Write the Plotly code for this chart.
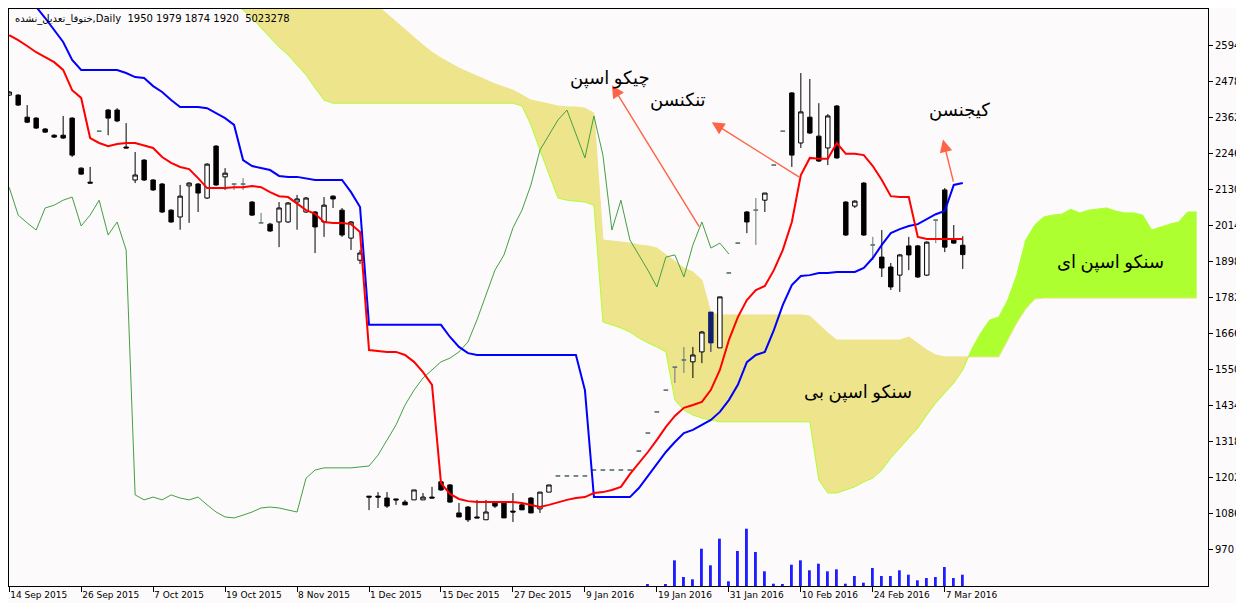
import numpy as np
import plotly.graph_objects as go

# bar index -> trading day; date labels sit on every 8th bar
date_ticks = [0, 8, 16, 24, 32, 40, 48, 56, 64, 72, 80, 88, 96, 104]
date_labels = ['14 Sep 2015', '26 Sep 2015', '7 Oct 2015', '19 Oct 2015', '8 Nov 2015',
               '1 Dec 2015', '15 Dec 2015', '27 Dec 2015', '9 Jan 2016', '19 Jan 2016',
               '31 Jan 2016', '10 Feb 2016', '24 Feb 2016', '7 Mar 2016']
price_ticks = [970, 1086, 1202, 1318, 1434, 1550, 1666, 1782, 1898, 2014,
               2130, 2246, 2362, 2478, 2594]

op = [2433, 2433, 2362, 2359, 2324, 2304, 2304, 2359, 2198, 2153,
      2317, 2385, 2385, 2266, 2160, 2224, 2160, 2147, 2063, 2041,
      2141, 2147, 2102, 2269, 2170, 2147, 2147, 2089, 2022, 2018,
      2025, 2025, 2089, 2057, 2057, 2025, 2108, 2063, 1973, 1902,
      1143, 1143, 1137, 1134, 1124, 1131, 1131, 1140, 1189, 1179,
      1089, 1108, 1076, 1067, 1121, 1124, 1095, 1115, 1137, 1102,
      1156, 1208, 1208, 1208, 1208, 1227, 1227, 1227, 1227, 1227,
      1288, 1346, 1414, 1484, 1558, 1581, 1575, 1607, 1735, 1620,
      1861, 1957, 2057, 2063, 2095, 2208, 2317, 2440, 2279, 2362,
      2301, 2263, 2398, 2089, 2076, 2150, 1951, 1912, 1880, 1854,
      1948, 1948, 1854, 2031, 2128, 1967, 1950]
hi = [2446, 2436, 2401, 2362, 2327, 2307, 2366, 2362, 2201, 2202,
      2317, 2388, 2391, 2343, 2250, 2227, 2163, 2150, 2066, 2144,
      2153, 2150, 2214, 2272, 2198, 2147, 2166, 2092, 2054, 2022,
      2089, 2089, 2112, 2105, 2060, 2105, 2111, 2070, 2028, 1935,
      1143, 1156, 1156, 1134, 1131, 1163, 1153, 1173, 1192, 1182,
      1121, 1111, 1131, 1131, 1121, 1127, 1153, 1118, 1140, 1156,
      1179, 1208, 1208, 1208, 1208, 1227, 1227, 1227, 1227, 1227,
      1288, 1346, 1414, 1484, 1558, 1623, 1623, 1674, 1735, 1784,
      1861, 1957, 2060, 2102, 2118, 2208, 2317, 2443, 2504, 2485,
      2407, 2372, 2401, 2092, 2095, 2153, 1977, 1999, 1893, 1922,
      1977, 1951, 1963, 2031, 2134, 2015, 1979]
lo = [2430, 2398, 2343, 2324, 2311, 2295, 2292, 2234, 2176, 2150,
      2317, 2304, 2346, 2263, 2150, 2157, 2125, 2054, 2022, 2000,
      2022, 2057, 2099, 2141, 2128, 2128, 2128, 2044, 2022, 1993,
      1944, 2022, 2000, 2054, 1925, 1977, 2070, 1977, 1935, 1890,
      1098, 1105, 1105, 1115, 1115, 1131, 1131, 1137, 1160, 1121,
      1076, 1060, 1073, 1067, 1105, 1073, 1060, 1099, 1089, 1089,
      1156, 1208, 1208, 1208, 1208, 1227, 1227, 1227, 1227, 1227,
      1288, 1346, 1414, 1484, 1507, 1539, 1523, 1571, 1607, 1620,
      1861, 1957, 1989, 1951, 2057, 2208, 2317, 2202, 2263, 2308,
      2218, 2208, 2228, 1980, 2070, 1980, 1903, 1848, 1806, 1800,
      1870, 1845, 1851, 1957, 1928, 1954, 1874]
cl = [2443, 2401, 2346, 2327, 2314, 2298, 2295, 2240, 2179, 2150,
      2317, 2359, 2350, 2263, 2176, 2160, 2128, 2057, 2025, 2108,
      2150, 2118, 2211, 2144, 2182, 2147, 2147, 2047, 2022, 1996,
      2070, 2086, 2099, 2102, 2009, 2079, 2099, 1983, 2025, 1925,
      1140, 1140, 1111, 1131, 1115, 1163, 1140, 1137, 1163, 1124,
      1076, 1067, 1073, 1092, 1111, 1073, 1092, 1099, 1089, 1156,
      1179, 1208, 1208, 1208, 1208, 1227, 1227, 1227, 1227, 1227,
      1288, 1346, 1414, 1484, 1558, 1581, 1597, 1671, 1636, 1784,
      1861, 1957, 2025, 2063, 2118, 2208, 2317, 2240, 2379, 2311,
      2221, 2366, 2231, 1983, 2092, 1983, 1951, 1877, 1816, 1919,
      1919, 1848, 1960, 2031, 1944, 1957, 1920]
gray_bars = [10, 25, 26, 28, 61, 62, 63, 64, 65, 66, 67, 68, 69, 70, 71, 72, 73,
             74, 75, 80, 81, 83, 85, 86, 96, 103]
navy_bars = [78]

volume = [0] * 71 + [580000, 0, 580000, 11420000, 4000000, 2980000, 16580000,
          9200000, 21030000, 2090000, 15560000, 25470000, 15110000, 6530000,
          1020000, 580000, 9470000, 11420000, 6980000, 9910000, 6530000,
          7420000, 1020000, 4450000, 1470000, 8000000, 4450000, 4450000,
          6980000, 5020000, 2530000, 3560000, 4000000, 8450000, 3560000, 5023278]

tenkan = [2626, 2610, 2591, 2571, 2555, 2539, 2514, 2449, 2424, 2295,
          2279, 2269, 2276, 2279, 2279, 2272, 2263, 2234, 2215, 2202,
          2195, 2166, 2134, 2134, 2134, 2137, 2137, 2141, 2137, 2121,
          2108, 2105, 2083, 2063, 2051, 2025, 2022, 2022, 2018, 1993,
          1613, 1610, 1607, 1607, 1597, 1575, 1542, 1501, 1185, 1150,
          1134, 1127, 1124, 1124, 1124, 1124, 1124, 1121, 1115, 1108,
          1115, 1124, 1131, 1137, 1140, 1153, 1156, 1163, 1173, 1214,
          1249, 1285, 1324, 1366, 1401, 1427, 1436, 1446, 1485, 1549,
          1645, 1719, 1774, 1806, 1819, 1870, 1935, 2025, 2176, 2231,
          2228, 2228, 2279, 2244, 2244, 2240, 2205, 2160, 2108, 2105,
          2105, 1977, 1970, 1970, 1970, 1970, 1970]
kijun = [2790, 2765, 2740, 2717, 2681, 2642, 2604, 2546, 2514, 2514,
         2514, 2514, 2514, 2504, 2491, 2488, 2462, 2443, 2417, 2395,
         2395, 2395, 2391, 2375, 2359, 2337, 2224, 2205, 2198, 2192,
         2173, 2170, 2170, 2166, 2160, 2160, 2160, 2160, 2121, 2073,
         1694, 1694, 1694, 1694, 1694, 1694, 1694, 1694, 1694, 1655,
         1623, 1603, 1597, 1597, 1597, 1597, 1597, 1597, 1597, 1597,
         1597, 1597, 1597, 1597, 1484, 1140, 1140, 1140, 1140, 1140,
         1169, 1208, 1243, 1285, 1317, 1346, 1356, 1372, 1388, 1414,
         1452, 1501, 1574, 1597, 1607, 1677, 1758, 1822, 1851, 1854,
         1861, 1861, 1864, 1864, 1864, 1877, 1909, 1951, 1989, 2002,
         2012, 2018, 2034, 2050, 2060, 2144, 2150]
chikou = [2137, 2047, 2022, 1999, 2070, 2079, 2095, 2105, 2012, 2047,
          2095, 1983, 2025, 1935, 1147, 1131, 1140, 1131, 1147, 1137,
          1131, 1140, 1115, 1092, 1076, 1073, 1082, 1092, 1105, 1108,
          1105, 1099, 1092, 1201, 1227, 1234, 1234, 1234, 1234, 1237,
          1240, 1275, 1324, 1372, 1436, 1484, 1523, 1549, 1575, 1587,
          1607, 1639, 1710, 1790, 1870, 1919, 2006, 2063, 2144, 2256,
          2305, 2353, 2385, 2305, 2231, 2366, 2240, 1999, 2095, 1967,
          1919, 1870, 1816, 1912, 1919, 1848, 1951, 2025, 1941, 1957,
          1922]
span_a = [2930, 2920, 2910, 2900, 2890, 2880, 2870, 2860, 2850, 2840,
          2830, 2820, 2810, 2800, 2790, 2780, 2770, 2760, 2750, 2745,
          2740, 2738, 2736, 2734, 2732, 2730, 2707, 2681, 2649, 2617,
          2588, 2562, 2530, 2498, 2456, 2417, 2407, 2407, 2407, 2407,
          2407, 2407, 2407, 2407, 2407, 2407, 2407, 2407, 2407, 2407,
          2407, 2407, 2407, 2407, 2407, 2407, 2407, 2398, 2337, 2256,
          2176, 2102, 2095, 2092, 2089, 2079, 1703, 1694, 1684, 1671,
          1652, 1636, 1623, 1607, 1452, 1420, 1404, 1394, 1388, 1382,
          1382, 1382, 1382, 1382, 1382, 1382, 1382, 1382, 1382, 1382,
          1195, 1153, 1153, 1163, 1173, 1189, 1201, 1227, 1266, 1298,
          1330, 1362, 1404, 1443, 1475, 1507, 1549, 1616, 1668, 1710,
          1719, 1774, 1854, 1967, 2015, 2041, 2047, 2050, 2066, 2054,
          2063, 2066, 2070, 2060, 2054, 2054, 2047, 1999, 2009, 2018,
          2025, 2057, 2057]
span_b = [3000, 2995, 2990, 2985, 2980, 2975, 2970, 2965, 2960, 2955,
          2950, 2945, 2940, 2935, 2930, 2925, 2920, 2915, 2910, 2905,
          2900, 2895, 2890, 2885, 2880, 2870, 2860, 2850, 2840, 2830,
          2820, 2810, 2800, 2790, 2780, 2770, 2760, 2752, 2745, 2738,
          2730, 2719, 2694, 2668, 2642, 2620, 2594, 2571, 2552, 2536,
          2520, 2507, 2494, 2481, 2469, 2459, 2449, 2433, 2417, 2411,
          2404, 2398, 2395, 2395, 2391, 2375, 1967, 1964, 1960, 1957,
          1951, 1948, 1941, 1919, 1896, 1877, 1864, 1838, 1732, 1726,
          1726, 1726, 1726, 1726, 1726, 1726, 1726, 1726, 1726, 1722,
          1694, 1668, 1645, 1645, 1645, 1645, 1645, 1645, 1645, 1645,
          1655, 1633, 1613, 1597, 1591, 1591, 1591, 1591, 1591, 1591,
          1591, 1645, 1700, 1745, 1777, 1780, 1780, 1780, 1780, 1780,
          1780, 1780, 1780, 1780, 1780, 1780, 1780, 1780, 1780, 1780,
          1780, 1780, 1780]

KHAKI = '#EEE48C'
LIME = '#ADFF2F'
BG = '#FCFAFA'
Y_RANGE = [854, 2710]
VOL_PER_PX = 444538


def kumo_pieces(a, b):
    # split the cloud where span A and span B cross
    a = np.asarray(a, float)
    b = np.asarray(b, float)
    x = np.arange(len(a), dtype=float)
    pieces = []
    xs, ya, yb = [x[0]], [a[0]], [b[0]]
    for i in range(len(a) - 1):
        d0, d1 = a[i] - b[i], a[i + 1] - b[i + 1]
        if d0 * d1 < 0:
            t = d0 / (d0 - d1)
            xc = x[i] + t
            yc = a[i] + (a[i + 1] - a[i]) * t
            xs.append(xc); ya.append(yc); yb.append(yc)
            pieces.append((xs, ya, yb, d0 > 0))
            xs, ya, yb = [xc], [yc], [yc]
        xs.append(x[i + 1]); ya.append(a[i + 1]); yb.append(b[i + 1])
    pieces.append((xs, ya, yb, (a[-1] - b[-1]) > 0))
    return pieces


fig = go.Figure()

for xs, ya, yb, up in kumo_pieces(span_a, span_b):
    fig.add_trace(go.Scatter(
        x=list(xs) + list(xs)[::-1], y=list(yb) + list(ya)[::-1],
        fill='toself', fillcolor=LIME if up else KHAKI,
        line=dict(width=0), mode='lines', hoverinfo='skip'))

cloud_x = list(range(len(span_a)))
fig.add_trace(go.Scatter(x=cloud_x, y=span_b, mode='lines',
                         line=dict(color=KHAKI, width=1)))
fig.add_trace(go.Scatter(x=cloud_x, y=span_a, mode='lines',
                         line=dict(color=LIME, width=1)))

bars = list(range(len(op)))
fig.add_trace(go.Bar(x=bars, y=volume, width=0.22, marker=dict(color='#1E1EFF', line=dict(width=0)),
                     yaxis='y2'))


def candle_group(idx, up_fill, dn_fill, line_col):
    return go.Candlestick(
        x=[bars[i] for i in idx], open=[op[i] for i in idx], high=[hi[i] for i in idx],
        low=[lo[i] for i in idx], close=[cl[i] for i in idx],
        increasing=dict(fillcolor=up_fill, line=dict(color=line_col, width=1)),
        decreasing=dict(fillcolor=dn_fill, line=dict(color=line_col, width=1)),
        whiskerwidth=0, yaxis='y3', hoverinfo='skip')


plain = [i for i in bars if i not in gray_bars and i not in navy_bars]
fig.add_trace(candle_group(plain, 'white', 'black', 'black'))
fig.add_trace(candle_group(gray_bars, '#5F7878', '#5F7878', '#5F7878'))
fig.add_trace(candle_group(navy_bars, '#14206E', '#14206E', '#14206E'))

fig.add_trace(go.Scatter(x=list(range(len(chikou))), y=chikou, mode='lines',
                         line=dict(color='#44A044', width=1), yaxis='y4'))
fig.add_trace(go.Scatter(x=bars, y=kijun, mode='lines',
                         line=dict(color='#0000FF', width=2), yaxis='y4'))
fig.add_trace(go.Scatter(x=bars, y=tenkan, mode='lines',
                         line=dict(color='#FF0000', width=2), yaxis='y4'))

arrow_col = '#FF6347'
arrows = [(67.0, 2465, 76.8, 2005), (78.1, 2346, 88.0, 2166), (103.8, 2290, 105.0, 2150)]
for hx, hy, tx, ty in arrows:
    fig.add_annotation(x=hx, y=hy, ax=tx, ay=ty, xref='x', yref='y', axref='x', ayref='y',
                       text='', showarrow=True, arrowhead=2, arrowsize=1.8, arrowwidth=1.4,
                       arrowcolor=arrow_col)

fa_font = dict(family='Times New Roman, DejaVu Serif, DejaVu Sans', size=18, color='black')
labels = [(66.8, 2488, 'چیکو اسپن'), (74.4, 2417, 'تنکنسن'), (105.6, 2385, 'کیجنسن'),
          (122.4, 1896, 'سنکو اسپن ای'), (94.3, 1475, 'سنکو اسپن بی')]
for lx, ly, txt in labels:
    fig.add_annotation(x=lx, y=ly, text=txt, showarrow=False, font=fa_font)

fig.add_annotation(xref='paper', yref='paper', x=0.003, y=0.983, xanchor='left', yanchor='middle',
                   text='ختوقا_تعدیل_نشده,Daily  1950 1979 1874 1920  5023278', showarrow=False,
                   font=dict(family='Tahoma, DejaVu Sans', size=10, color='black'))

# the page body keeps its default 8px margin, so the figure is 8px smaller
fig.update_layout(
    width=1236, height=595, margin=dict(l=1, r=36, t=1, b=17),
    paper_bgcolor=BG, plot_bgcolor=BG, showlegend=False,
    xaxis=dict(range=[-0.02, 133.26], tickvals=date_ticks, ticktext=date_labels,
               ticks='outside', ticklen=5, tickcolor='black', showline=True, mirror=True,
               linecolor='black', showgrid=False, zeroline=False,
               tickfont=dict(family='Tahoma, DejaVu Sans', size=9, color='black'),
               tickangle=0, ticklabelposition='outside right', rangeslider=dict(visible=False),
               automargin=False),
    yaxis=dict(range=Y_RANGE, side='right', tickvals=price_ticks, ticks='outside', ticklen=4,
               tickcolor='black', showline=True, mirror=True, linecolor='black',
               showgrid=False, zeroline=False,
               tickfont=dict(family='Tahoma, DejaVu Sans', size=10, color='black'),
               automargin=False),
    yaxis2=dict(overlaying='y', range=[0, VOL_PER_PX * 577], visible=False),
    yaxis3=dict(overlaying='y', matches='y', visible=False),
    yaxis4=dict(overlaying='y', matches='y', visible=False),
)

fig.write_html('out.html')
